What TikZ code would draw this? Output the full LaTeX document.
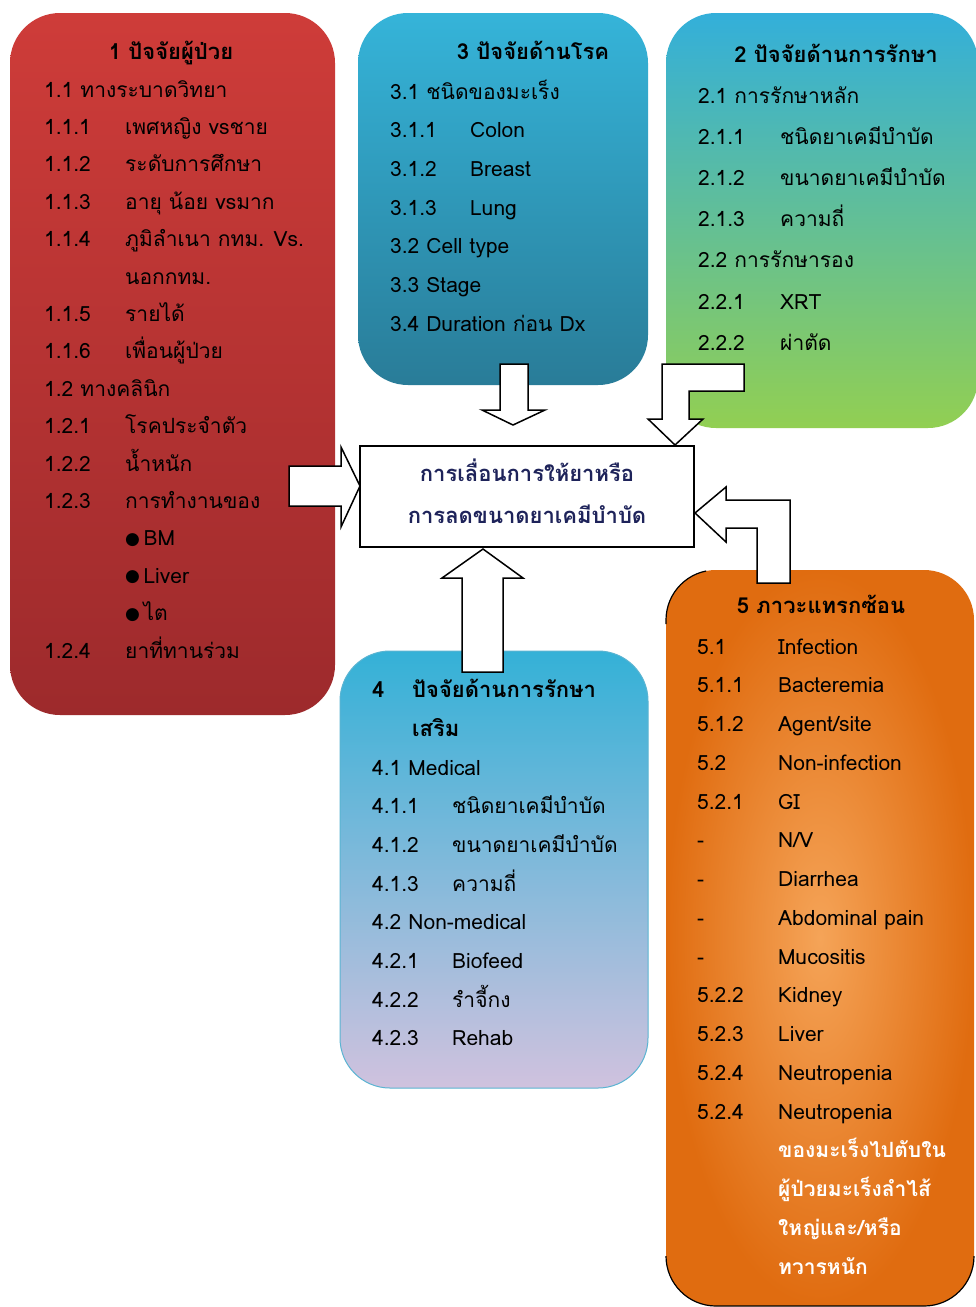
\documentclass[tikz,border=0pt]{standalone}
\usepackage{fontspec}
\newfontfamily\thaifont[Script=Thai]{Loma}
\newfontfamily\symfont{DejaVu Sans}
\usetikzlibrary{shadings}
\definecolor{patTop}{RGB}{206,60,57}
\definecolor{patBot}{RGB}{157,42,44}
\definecolor{disTop}{RGB}{53,180,217}
\definecolor{disBot}{RGB}{41,124,152}
\definecolor{trtTop}{RGB}{51,175,218}
\definecolor{trtBot}{RGB}{146,207,82}
\definecolor{supTop}{RGB}{52,177,215}
\definecolor{supBot}{RGB}{208,194,222}
\definecolor{supLine}{RGB}{90,180,210}
\definecolor{cmpIn}{RGB}{245,164,88}
\definecolor{cmpOut}{RGB}{224,108,16}
\definecolor{goalText}{RGB}{30,35,90}
\newcommand{\bul}{\raisebox{1.5pt}{\symfont\fontsize{17}{17}\selectfont ●}\,}

\begin{document}
\begin{tikzpicture}[x=1pt,y=-1pt,
    txt/.style={font=\thaifont\fontsize{21}{25}\selectfont,inner sep=0pt,anchor=base west},
    ttl/.style={font=\thaifont\bfseries\fontsize{22}{26}\selectfont,inner sep=0pt,anchor=base},
    card/.style={rounded corners=50pt,inner sep=0pt,outer sep=0pt},
    blockarrow/.style={draw=black,fill=white,line width=1.5pt}]
    \useasboundingbox[fill=white] (0,0) rectangle (976,1307);
    % the five cards
    \node[card,minimum width=325,minimum height=702,top color=patTop,bottom color=patBot] (pat) at (172.5,364) {};
    \node[card,minimum width=290,minimum height=372,top color=disTop,bottom color=disBot] (dis) at (503,199) {};
    \node[card,minimum width=312,minimum height=415,top color=trtTop,bottom color=trtBot] (trt) at (822,220.5) {};
    \node[card,minimum width=308,minimum height=437,top color=supTop,bottom color=supBot,draw=supLine,line width=1pt] (sup) at (494,869.5) {};
    \node[card,minimum width=308,minimum height=736,inner color=cmpIn,outer color=cmpOut] (cmp) at (820,938) {};
    \begin{scope}
      \clip (600,560) rectangle (706,624) (600,1256) rectangle (1000,1320);
      \draw[black,line width=1.2pt,rounded corners=50pt] (cmp.north west) rectangle (cmp.south east);
    \end{scope}
    % card 1
    \node[ttl] (pat-ttl) at (171,59) {1 ปัจจัยผู้ป่วย};
    \foreach \n/\t [count=\i from 0] in {{1.1 ทางระบาดวิทยา}/{},1.1.1/{เพศหญิง vsชาย},1.1.2/ระดับการศึกษา,
        1.1.3/{อายุ น้อย vsมาก},1.1.4/{ภูมิลำเนา กทม. Vs.},{}/{นอกกทม.},1.1.5/รายได้,1.1.6/เพื่อนผู้ป่วย,
        {1.2 ทางคลินิก}/{},1.2.1/โรคประจำตัว,1.2.2/น้ำหนัก,1.2.3/การทำงานของ,{}/{\bul BM},{}/{\bul Liver},
        {}/{\bul ไต},1.2.4/ยาที่ทานร่วม}{
      \node[txt] (pat-n\i) at (44,97+\i*37.4) {\n};
      \node[txt] (pat-t\i) at (125,97+\i*37.4) {\t};}
    % card 3
    \node[ttl] (dis-ttl) at (533,59) {3 ปัจจัยด้านโรค};
    \foreach \n/\t [count=\i from 0] in {{3.1 ชนิดของมะเร็ง}/{},3.1.1/Colon,3.1.2/Breast,3.1.3/Lung,
        {3.2 Cell type}/{},{3.3 Stage}/{},{3.4 Duration ก่อน Dx}/{}}{
      \node[txt] (dis-n\i) at (390,99+\i*38.7) {\n};
      \node[txt] (dis-t\i) at (470,99+\i*38.7) {\t};}
    % card 2
    \node[ttl] (trt-ttl) at (836,62) {2 ปัจจัยด้านการรักษา};
    \foreach \n/\t [count=\i from 0] in {{2.1 การรักษาหลัก}/{},2.1.1/ชนิดยาเคมีบำบัด,2.1.2/ขนาดยาเคมีบำบัด,
        2.1.3/ความถี่,{2.2 การรักษารอง}/{},2.2.1/XRT,2.2.2/ผ่าตัด}{
      \node[txt] (trt-n\i) at (698,103+\i*41.2) {\n};
      \node[txt] (trt-t\i) at (780,103+\i*41.2) {\t};}
    % card 4
    \node[ttl,anchor=base west] (sup-num) at (372,697) {4};
    \node[ttl,anchor=base west] (sup-ttl) at (412,697) {ปัจจัยด้านการรักษา};
    \node[ttl,anchor=base west] (sup-ttl2) at (412,736) {เสริม};
    \foreach \n/\t [count=\i from 0] in {{4.1 Medical}/{},4.1.1/ชนิดยาเคมีบำบัด,4.1.2/ขนาดยาเคมีบำบัด,
        4.1.3/ความถี่,{4.2 Non-medical}/{},4.2.1/Biofeed,4.2.2/รำจี้กง,4.2.3/Rehab}{
      \node[txt] (sup-n\i) at (372,775+\i*38.7) {\n};
      \node[txt] (sup-t\i) at (452,775+\i*38.7) {\t};}
    % card 5
    \node[ttl] (cmp-ttl) at (821,613) {5 ภาวะแทรกซ้อน};
    \foreach \n/\t [count=\i from 0] in {5.1/Infection,5.1.1/Bacteremia,5.1.2/{Agent/site},5.2/Non-infection,
        5.2.1/GI,-/{N/V},-/Diarrhea,-/{Abdominal pain},-/Mucositis,5.2.2/Kidney,5.2.3/Liver,
        5.2.4/Neutropenia,5.2.4/Neutropenia}{
      \node[txt] (cmp-n\i) at (697,654+\i*38.75) {\n};
      \node[txt] (cmp-t\i) at (778,654+\i*38.75) {\t};}
    \foreach \t [count=\i from 13] in {ของมะเร็งไปตับใน,ผู้ป่วยมะเร็งลำไส้,{ใหญ่และ/หรือ},ทวารหนัก}
      \node[txt,text=white,font=\thaifont\bfseries\fontsize{21}{25}\selectfont] (cmp-t\i) at (778,654+\i*38.75) {\t};
    % centre box
    \node[draw,line width=1.5pt,fill=white,minimum width=334,minimum height=101,inner sep=0pt,outer sep=0pt] (goal) at (527,496.5) {};
    \node[align=center,text=goalText,inner sep=0pt,font=\thaifont\bfseries\fontsize{22}{42}\selectfont] (goal-txt)
      at (527,491.5) {การเลื่อนการให้ยาหรือ\\การลดขนาดยาเคมีบำบัด};
    % block arrows into the centre box
    \draw[blockarrow] (goal.west) ++(0,-10.5) -- ++(-19,-39) -- ++(0,19) -- ++(-52,0) -- ++(0,40)
      -- ++(52,0) -- ++(0,21) -- cycle;
    \draw[blockarrow] (goal.north) ++(-14,-21) -- ++(32,-15) -- ++(-17,0) -- ++(0,-46) -- ++(-28,0)
      -- ++(0,46) -- ++(-18,0) -- cycle;
    \draw[blockarrow] (goal.south) ++(-44,2) -- ++(40,29) -- ++(-20,0) -- ++(0,94) -- ++(-41,0)
      -- ++(0,-94) -- ++(-20,0) -- cycle;
    \draw[blockarrow] (goal.north east) ++(-19,-1) -- ++(28,-26) -- ++(-14,0) -- ++(0,-28) -- ++(55,0)
      -- ++(0,-27) -- ++(-82,0) -- ++(0,55) -- ++(-14,0) -- cycle;
    \draw[blockarrow] (goal.east) ++(1,16.5) -- ++(31,-26) -- ++(0,13) -- ++(64,0) -- ++(0,83)
      -- ++(-33,0) -- ++(0,-55) -- ++(-31,0) -- ++(0,14) -- cycle;
\end{tikzpicture}
\end{document}
